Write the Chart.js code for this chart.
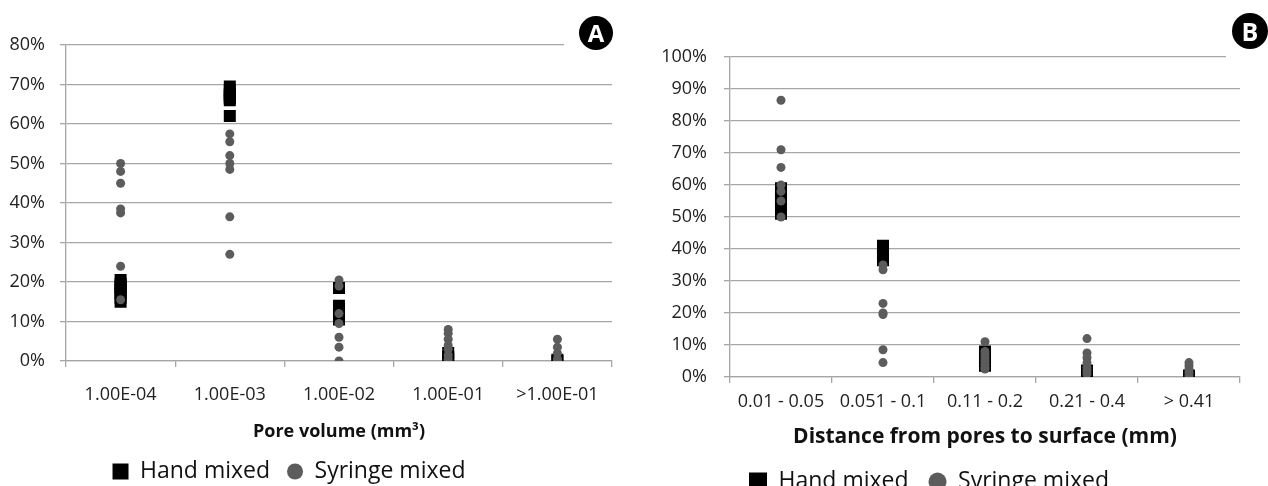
<!DOCTYPE html>
<html>
<head>
<meta charset="utf-8">
<script src="https://cdn.jsdelivr.net/npm/chart.js@4.4.1/dist/chart.umd.min.js"></script>
<style>
  body { margin: 0; background: #fff; }
  #page { position: relative; width: 1268px; height: 486px; overflow: hidden; }
  .wrap { position: absolute; top: 0; height: 486px; }
  #wrapA { left: 0; width: 625px; }
  #wrapB { left: 640px; width: 628px; }
  .mask { position: absolute; background: #fff; }
  .badge {
    position: absolute; border-radius: 50%; background: #000; color: #fff;
    font-family: 'Open Sans', sans-serif; font-weight: bold; text-align: center;
  }
</style>
</head>
<body>
<div id="page">
  <div class="wrap" id="wrapA"><canvas id="chartA"></canvas></div>
  <div class="wrap" id="wrapB"><canvas id="chartB"></canvas></div>
  <div class="mask" style="left:564px; top:38px; width:60px; height:14px;"></div>
  <div class="badge" style="left:579px; top:16px; width:34px; height:34px; line-height:34px; font-size:24px;">A</div>
  <div class="mask" style="left:1226px; top:50px; width:42px; height:14px;"></div>
  <div class="badge" style="left:1232px; top:13px; width:36px; height:36px; line-height:36px; font-size:25px;">B</div>
</div>
<script>
// Panel A: pore volume
const poreLabels = ['1.00E-04', '1.00E-03', '1.00E-02', '1.00E-01', '>1.00E-01'];
const poreHand = [
  [20.5, 19.5, 19, 18.5, 18, 17, 16, 15],
  [69.5, 68.5, 67.5, 67, 66.5, 66, 62],
  [18.5, 14, 13.5, 13, 12, 11, 10.5],
  [2, 1, 0.5],
  [0.3, 0]
];
const poreSyringe = [
  [50, 48, 45, 38.5, 37.5, 24, 15.5],
  [57.5, 55.5, 52, 50, 48.5, 36.5, 27],
  [20.5, 19, 12, 9.5, 6, 3.5, 0],
  [8, 7, 5.5, 4, 3, 1.5, 0.5],
  [5.5, 3.5, 2, 0.5, 0]
];

// Panel B: distance from pores to surface
const distLabels = ['0.01 - 0.05', '0.051 - 0.1', '0.11 - 0.2', '0.21 - 0.4', '> 0.41'];
const distHand = [
  [59, 58, 57, 56, 55.5, 55, 54, 53, 51],
  [41, 40, 39, 38, 37, 36.5],
  [8, 7, 6, 5.5, 5, 4, 3.5],
  [2, 1, 0.5, 0],
  [0.5, 0]
];
const distSyringe = [
  [86.5, 71, 65.5, 60, 58, 55, 50],
  [35, 33.5, 23, 20, 19.5, 8.5, 4.5],
  [11, 8, 7, 6, 5, 4, 3, 2.5],
  [12, 7.5, 6, 4.5, 3, 2, 1],
  [4.5, 3.5, 2.5, 1.5, 0.5]
];

const seriesNames = ['Hand mixed', 'Syringe mixed'];
const handColor = '#000000';
const syringeColor = '#5c5c5c';
const gridColor = '#a6a6a6';
const font = "'Open Sans', sans-serif";

function toPoints(labels, groups) {
  return groups.flatMap((vals, i) => vals.map(v => ({ x: labels[i], y: v })));
}

// moves the legend block sideways after Chart.js has laid it out
const legendNudge = {
  id: 'legendNudge',
  afterLayout(chart, args, opts) {
    const lg = chart.legend;
    lg.left += opts.dx || 0;
    lg.right += opts.dx || 0;
    lg.top += opts.dy || 0;
    lg.bottom += opts.dy || 0;
  }
};

function makeChart(id, labels, hand, syringe, yMax, title, cfg) {
  return new Chart(document.getElementById(id), {
    type: 'line',
    data: {
      labels: labels,
      datasets: [{
        label: seriesNames[0],
        data: toPoints(labels, hand),
        showLine: false,
        pointStyle: 'rect',
        pointRadius: 8.5,
        pointBackgroundColor: handColor,
        pointBorderColor: handColor,
        backgroundColor: handColor,
        borderColor: handColor,
        borderWidth: 0,
        order: 1
      }, {
        label: seriesNames[1],
        data: toPoints(labels, syringe),
        showLine: false,
        pointStyle: 'circle',
        pointRadius: 4.5,
        pointBackgroundColor: syringeColor,
        pointBorderColor: syringeColor,
        backgroundColor: syringeColor,
        borderColor: syringeColor,
        borderWidth: 0,
        order: 0
      }]
    },
    options: {
      responsive: true,
      maintainAspectRatio: false,
      animation: false,
      layout: { padding: cfg.padding },
      scales: {
        x: {
          type: 'category',
          offset: true,
          afterFit: s => { s.height = cfg.xHeight; },
          grid: { offset: true, drawOnChartArea: false, drawTicks: true, tickLength: 6, color: gridColor, lineWidth: 1.3 },
          border: { color: gridColor, width: 1.3 },
          ticks: { color: '#222', padding: cfg.xPad, font: { family: font, size: 18 }, maxRotation: 0, autoSkip: false },
          title: { display: true, text: title, color: '#111', padding: { top: 0, bottom: 0 }, font: { family: font, size: cfg.titleSize, weight: 'bold' } }
        },
        y: {
          min: 0,
          max: yMax,
          afterFit: s => { s.width = cfg.yWidth; },
          grid: { color: gridColor, lineWidth: 1.3, drawTicks: true, tickLength: 6 },
          border: { color: gridColor, width: 1.3 },
          ticks: { stepSize: 10, color: '#222', padding: cfg.yPad, font: { family: font, size: 18 }, callback: v => v + '%' }
        }
      },
      plugins: {
        tooltip: { enabled: false },
        legendNudge: { dx: cfg.legendDx, dy: 0 },
        legend: {
          position: 'bottom',
          labels: {
            color: '#111',
            boxWidth: cfg.box,
            boxHeight: cfg.box,
            padding: cfg.legendPad,
            font: { family: font, size: 23 },
            generateLabels: chart => Chart.defaults.plugins.legend.labels.generateLabels(chart)
              .sort((a, b) => a.datasetIndex - b.datasetIndex)
              .map(l => ({ ...l, lineWidth: 0, borderRadius: l.datasetIndex === 1 ? cfg.box / 2 : 0 }))
          }
        }
      }
    },
    plugins: [legendNudge]
  });
}

makeChart('chartA', poreLabels, poreHand, poreSyringe, 80, ['Pore volume (mm³)'], {
  padding: { top: 45, right: 13, bottom: -7, left: 0 },
  yWidth: 66, xHeight: 82, xPad: 17, yPad: 15, legendPad: 17, legendDx: -17,
  titleSize: 18, box: 16
});

makeChart('chartB', distLabels, distHand, distSyringe, 100, ['Distance from pores to surface (mm)'], {
  padding: { top: 57, right: 28, bottom: -17, left: 0 },
  yWidth: 90, xHeight: 73, xPad: 8, yPad: 17, legendPad: 20, legendDx: -11,
  titleSize: 21, box: 18
});
</script>
</body>
</html>
